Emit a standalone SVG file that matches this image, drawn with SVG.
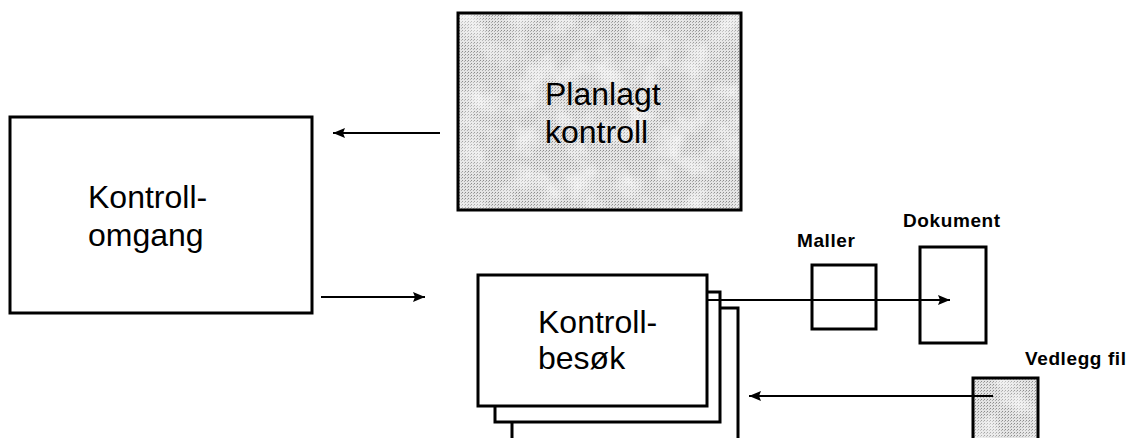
<svg xmlns="http://www.w3.org/2000/svg" width="1136" height="438" viewBox="0 0 1136 438">
  <style>
    .box { fill: #ffffff; stroke: #000000; stroke-width: 3; }
    .shade { fill: url(#dither); stroke: #000000; stroke-width: 3; }
    .big { font-family: "Liberation Sans", Arial, sans-serif; font-size: 32px; fill: #000000; }
    .tag { font-family: "Liberation Sans", Arial, sans-serif; font-size: 19px; font-weight: bold; letter-spacing: 0.6px; fill: #000000; }
    .link { stroke: #000000; stroke-width: 2; fill: none; }
  </style>
  <defs>
    <!-- dithered grey fill -->
    <pattern id="dither" width="3" height="3" patternUnits="userSpaceOnUse">
      <rect width="3" height="3" fill="#e4e4e4"/>
      <rect width="1" height="1" fill="#8c8c8c"/>
      <rect x="2" y="1" width="1" height="1" fill="#acacac"/>
    </pattern>
    <!-- soft light blotches over the dithered fill -->
    <filter id="mottle" x="0" y="0" width="100%" height="100%">
      <feTurbulence type="fractalNoise" baseFrequency="0.035" numOctaves="3" seed="7"/>
      <feColorMatrix type="matrix" values="0 0 0 0 1  0 0 0 0 1  0 0 0 0 1  1.6 0 0 0 -0.7"/>
    </filter>
    <marker id="arrow" viewBox="0 0 12 10" refX="12" refY="5" markerWidth="12" markerHeight="10" markerUnits="userSpaceOnUse" orient="auto">
      <path d="M0,0 L12,5 L0,10 L2,5 Z" fill="#000000"/>
    </marker>
  </defs>

  <g id="node-kontrollomgang">
    <rect class="box" x="10" y="117" width="302" height="196"/>
    <text class="big" x="88" y="208">Kontroll-</text>
    <text class="big" x="88" y="246">omgang</text>
  </g>

  <g id="node-planlagt">
    <rect class="shade" x="458" y="13" width="283" height="197"/>
    <rect x="460" y="15" width="279" height="193" filter="url(#mottle)"/>
    <text class="big" x="545" y="105">Planlagt</text>
    <text class="big" x="545" y="143">kontroll</text>
  </g>

  <g id="node-kontrollbesok">
    <rect class="box" x="512" y="308" width="226" height="140"/>
    <rect class="box" x="495" y="292" width="225" height="130"/>
    <rect class="box" x="478" y="275" width="229" height="131"/>
    <text class="big" x="538" y="333">Kontroll-</text>
    <text class="big" x="538" y="369">besøk</text>
  </g>

  <g id="node-maller">
    <rect class="box" x="812" y="265" width="64" height="64"/>
    <text class="tag" x="797" y="247">Maller</text>
  </g>

  <g id="node-dokument">
    <rect class="box" x="920" y="247" width="66" height="96"/>
    <text class="tag" x="903" y="227">Dokument</text>
  </g>

  <g id="node-vedlegg">
    <rect class="shade" x="973" y="378" width="65" height="70"/>
    <rect x="975" y="380" width="61" height="60" filter="url(#mottle)"/>
    <text class="tag" x="1025" y="365">Vedlegg fil</text>
  </g>

  <g id="connectors">
    <line class="link" x1="440" y1="133" x2="333" y2="133" marker-end="url(#arrow)"/>
    <line class="link" x1="321" y1="297" x2="425" y2="297" marker-end="url(#arrow)"/>
    <line class="link" x1="707" y1="300" x2="950" y2="300" marker-end="url(#arrow)"/>
    <line class="link" x1="993" y1="396" x2="749" y2="396" marker-end="url(#arrow)"/>
  </g>
</svg>
